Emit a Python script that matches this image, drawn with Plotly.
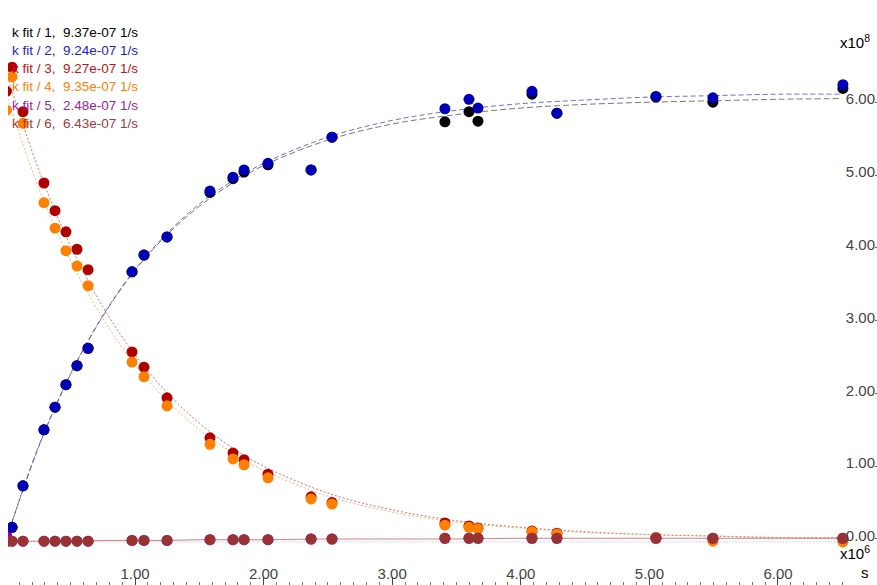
import plotly.graph_objects as go

# time in units of 1e6 s, values in units of 1e8
t = [0.0, 0.044, 0.129, 0.292, 0.378, 0.463, 0.549, 0.635, 0.977, 1.070, 1.249,
     1.583, 1.762, 1.848, 2.034, 2.369, 2.532, 3.410, 3.597, 3.667, 4.087, 4.281,
     5.051, 5.494, 6.505]

s1 = [0.00, 0.16, 0.73, 1.50, 1.81, 2.12, 2.38, 2.62, 3.67, 3.90, 4.15, 4.76, 4.95,
      5.04, 5.14, 5.07, 5.52, 5.73, 5.87, 5.74, 6.11, 5.85, 6.07, 6.00, 6.19]
s2 = [0.05, 0.16, 0.73, 1.50, 1.81, 2.12, 2.38, 2.62, 3.67, 3.90, 4.15, 4.78, 4.97,
      5.07, 5.16, 5.07, 5.52, 5.91, 6.04, 5.92, 6.15, 5.85, 6.08, 6.06, 6.24]
s3 = [6.15, 6.48, 5.87, 4.89, 4.51, 4.22, 3.98, 3.70, 2.57, 2.36, 1.94, 1.39, 1.18,
      1.09, 0.89, 0.58, 0.50, 0.22, 0.18, 0.15, 0.11, 0.08, 0.02, 0.00, 0.00]
s4 = [5.89, 6.35, 5.71, 4.62, 4.27, 3.96, 3.75, 3.48, 2.43, 2.23, 1.83, 1.30, 1.10,
      1.02, 0.84, 0.55, 0.48, 0.19, 0.16, 0.14, 0.10, 0.07, 0.02, -0.03, -0.04]
s5 = [0.03, -0.03, -0.03, -0.03, -0.03, -0.03, -0.03, -0.03, -0.02, -0.02, -0.02,
      -0.01, -0.01, -0.01, -0.01, 0.00, 0.00, 0.01, 0.01, 0.01, 0.01, 0.01, 0.01,
      0.01, 0.01]
s6 = [-0.04, -0.03, -0.03, -0.03, -0.03, -0.03, -0.03, -0.03, -0.02, -0.02, -0.02,
      -0.01, -0.01, -0.01, -0.01, 0.00, 0.00, 0.01, 0.01, 0.01, 0.01, 0.01, 0.01,
      0.01, 0.01]

# fitted curves
tf = [0.0, 0.25, 0.5, 0.75, 1.0, 1.25, 1.5, 1.75, 2.0, 2.5, 3.0, 3.5, 4.0, 4.5,
      5.0, 5.5, 6.0, 6.5]
f1 = [0.00, 1.27, 2.27, 3.06, 3.69, 4.18, 4.57, 4.88, 5.13, 5.48, 5.70, 5.83, 5.92,
      5.97, 6.00, 6.02, 6.04, 6.05]
f2 = [0.00, 1.26, 2.27, 3.07, 3.70, 4.20, 4.60, 4.91, 5.16, 5.52, 5.75, 5.89, 5.98,
      6.03, 6.07, 6.09, 6.11, 6.11]
f3 = [6.40, 5.08, 4.02, 3.19, 2.53, 2.01, 1.59, 1.26, 1.00, 0.63, 0.40, 0.25, 0.16,
      0.10, 0.06, 0.04, 0.02, 0.02]
f4 = [6.10, 4.83, 3.82, 3.03, 2.39, 1.90, 1.50, 1.19, 0.94, 0.59, 0.37, 0.23, 0.15,
      0.09, 0.06, 0.04, 0.02, 0.01]
f5 = [-0.04, -0.04, -0.04, -0.04, -0.04, -0.04, -0.04, -0.04, -0.04, -0.04, -0.04,
      -0.04, -0.04, -0.04, -0.04, -0.04, -0.04, -0.04]
f6 = [-0.03, -0.03, -0.03, -0.02, -0.02, -0.02, -0.01, -0.01, -0.01, 0.00, 0.00,
      0.00, 0.01, 0.01, 0.01, 0.01, 0.01, 0.01]

names = ["k fit / 1,", "k fit / 2,", "k fit / 3,", "k fit / 4,", "k fit / 5,", "k fit / 6,"]
kfits = ["9.37e-07 1/s", "9.24e-07 1/s", "9.27e-07 1/s", "9.35e-07 1/s",
         "2.48e-07 1/s", "6.43e-07 1/s"]

xtickvals = [1, 2, 3, 4, 5, 6]
xticktext = ["1.00", "2.00", "3.00", "4.00", "5.00", "6.00"]
ytickvals = [0, 1, 2, 3, 4, 5, 6]
yticktext = ["0.00", "1.00", "2.00", "3.00", "4.00", "5.00", "6.00"]

series = [s1, s2, s3, s4, s5, s6]
fits = [f1, f2, f3, f4, f5, f6]
marker_colors = ["#000000", "#0000b4", "#b00000", "#ff8000", "#a000a0", "#993333"]
text_colors = ["#000000", "#1e1ec8", "#c01414", "#ff8000", "#a01ea0", "#a03c3c"]
fit_colors = ["#555555", "#4848e0", "#d04848", "#ffa050", "#a890e0", "#c86060"]
fit_dash = ["6px,3px", "5px,3px", "2px,2px", "2px,2px", "1px,2px", "solid"]

FONT = "Liberation Sans, Arial, sans-serif"

fig = go.Figure()
for i in range(6):
    fig.add_trace(go.Scatter(x=tf, y=fits[i], mode="lines", line_shape="spline",
                             line=dict(color=fit_colors[i], width=0.8, dash=fit_dash[i]),
                             showlegend=False, hoverinfo="skip"))
for i in range(6):
    fig.add_trace(go.Scatter(x=t, y=series[i], mode="markers",
                             marker=dict(color=marker_colors[i], size=11),
                             showlegend=False))

annotations = []
for i in range(6):
    annotations.append(dict(
        text=names[i] + "\u00a0\u00a0" + kfits[i],
        xref="paper", yref="paper", x=0.0023, y=1 - (32 + 18.3 * i) / 585,
        xanchor="left", yanchor="middle", showarrow=False,
        font=dict(family=FONT, size=13.5, color=text_colors[i])))
annotations.append(dict(text="x10<sup>8</sup>", xref="paper", yref="paper",
                        x=0.994, y=1 - 42 / 585, xanchor="right", yanchor="middle",
                        showarrow=False, font=dict(family=FONT, size=15, color="#000")))
annotations.append(dict(text="x10<sup>6</sup>", xref="paper", yref="paper",
                        x=0.994, y=1 - 552 / 585, xanchor="right", yanchor="middle",
                        showarrow=False, font=dict(family=FONT, size=15, color="#000")))
annotations.append(dict(text="s", xref="paper", yref="paper",
                        x=(865 - 8) / 869, y=1 - 572 / 585, xanchor="center", yanchor="middle",
                        showarrow=False, font=dict(family=FONT, size=15, color="#000")))

fig.update_layout(
    width=877, height=585,
    margin=dict(l=8, r=0, t=0, b=0),
    paper_bgcolor="white", plot_bgcolor="white",
    showlegend=False,
    annotations=annotations,
    font=dict(family=FONT, size=15, color="#000"),
    xaxis=dict(range=[0.0124, 6.770], showgrid=False, zeroline=False, showline=False,
               tickmode="array", tickvals=xtickvals, ticktext=xticktext,
               ticks="inside", ticklen=8, tickcolor="#444", tickwidth=1,
               ticklabelposition="inside", ticklabelstandoff=-5,
               minor=dict(tickmode="linear", tick0=0, dtick=0.1, ticks="inside",
                          ticklen=3, tickcolor="#777")),
    yaxis=dict(range=[-0.632, 7.404], side="right", showgrid=False, zeroline=False,
               showline=False, tickmode="array", tickvals=ytickvals, ticktext=yticktext,
               ticks="inside", ticklen=2, tickcolor="#666",
               ticklabelposition="inside", ticklabelshift=-3, ticklabelstandoff=0),
)

fig.write_html("out.html", config={"displayModeBar": False},
               post_script="document.body.style.margin='0px';document.body.style.overflow='hidden';")
